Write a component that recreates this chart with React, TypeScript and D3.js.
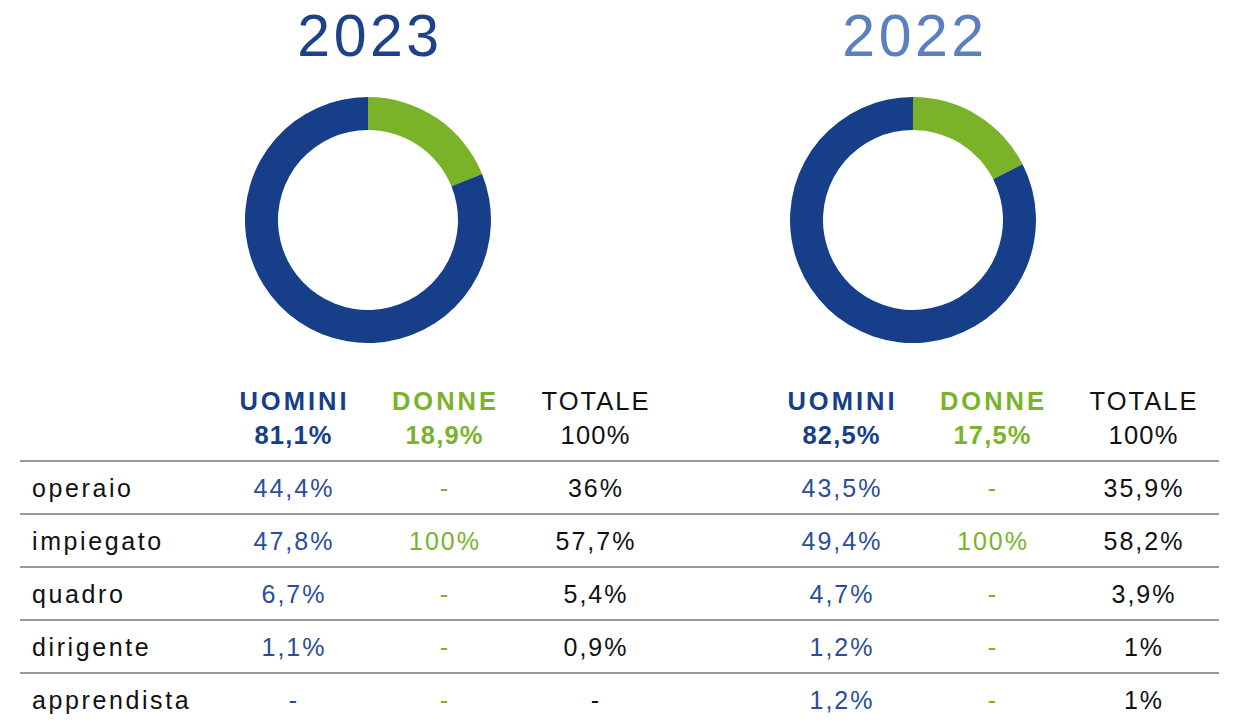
import React from "react";
import * as d3 from "d3";

// donut shares (%)
const years = ["2023", "2022"];
const donneShare = [18.9, 17.5];
const uominiShare = [81.1, 82.5];

// table
const roles = ["operaio", "impiegato", "quadro", "dirigente", "apprendista"];
const uomini2023 = [44.4, 47.8, 6.7, 1.1, null];
const donne2023 = [null, 100, null, null, null];
const totale2023 = [36, 57.7, 5.4, 0.9, null];
const uomini2022 = [43.5, 49.4, 4.7, 1.2, 1.2];
const donne2022 = [null, 100, null, null, null];
const totale2022 = [35.9, 58.2, 3.9, 1, 1];

const BLUE = "#173e88";
const BLUE_TXT = "#2b4f97";
const GREEN = "#7ab32a";
const TITLE_COLORS = ["#1d4289", "#5a80c0"];

const W = 1239;
const H = 723;
const FONT = "'Liberation Sans', Arial, Helvetica, sans-serif";

const fmt = (v: number | null) => (v == null ? "-" : String(v).replace(".", ",") + "%");

const App = () => {
  const blocks = [
    { year: years[0], d: donneShare[0], u: uominiShare[0], cols: [uomini2023, donne2023, totale2023], x0: 0 },
    { year: years[1], d: donneShare[1], u: uominiShare[1], cols: [uomini2022, donne2022, totale2022], x0: 548 },
  ];

  // rows: band scale over the table body
  const yRow = d3.scaleBand().domain(roles).range([461, 726]).padding(0);
  // column centres inside one block
  const xCol = d3.scalePoint().domain(["u", "d", "t"]).range([293, 595]);

  const pie = d3.pie<number>().sort(null).startAngle(0).endAngle(2 * Math.PI);
  const arc = d3.arc<d3.PieArcDatum<number>>().innerRadius(90).outerRadius(123);

  const colColor = [BLUE_TXT, GREEN, "#111"];

  return (
    <svg width={W} height={H} style={{ position: "absolute", left: 0, top: 0, background: "#fff" }} fontFamily={FONT}>
      {blocks.map((b, bi) => {
        const cx = 368 + b.x0 - (bi === 1 ? 3 : 0);
        const arcs = pie([b.d, b.u]);
        return (
          <g key={b.year}>
            <text x={cx + 2} y={56} textAnchor="middle" fontSize={59} letterSpacing={3.5} fill={TITLE_COLORS[bi]}>
              {b.year}
            </text>
            <g transform={`translate(${cx},220)`}>
              {arcs.map((a, i) => (
                <path key={i} d={arc(a) || ""} fill={i === 0 ? GREEN : BLUE} />
              ))}
            </g>
            {/* header */}
            <g fontSize={25.5}>
              <text x={b.x0 + xCol("u")! + 1.5} y={410} textAnchor="middle" fontWeight="bold" letterSpacing={3} fill={BLUE}>
                UOMINI
              </text>
              <text x={b.x0 + xCol("d")! + 1.5} y={410} textAnchor="middle" fontWeight="bold" letterSpacing={3} fill={GREEN}>
                DONNE
              </text>
              <text x={b.x0 + xCol("t")! + 1} y={410} textAnchor="middle" letterSpacing={2} fill="#111">
                TOTALE
              </text>
              <text x={b.x0 + xCol("u")! + 0.6} y={443.5} textAnchor="middle" fontWeight="bold" letterSpacing={1.2} fill={BLUE}>
                {fmt(b.u)}
              </text>
              <text x={b.x0 + xCol("d")! + 0.6} y={443.5} textAnchor="middle" fontWeight="bold" letterSpacing={1.2} fill={GREEN}>
                {fmt(b.d)}
              </text>
              <text x={b.x0 + xCol("t")! + 0.6} y={443.5} textAnchor="middle" letterSpacing={1.2} fill="#111">
                100%
              </text>
            </g>
            {/* body */}
            <g fontSize={25} letterSpacing={2}>
              {roles.map((r, ri) => (
                <g key={r}>
                  {bi === 0 && (
                    <text x={32} y={yRow(r)! + 35.5} fill="#111" letterSpacing={2.6}>
                      {r}
                    </text>
                  )}
                  {b.cols.map((col, ci) => (
                    <text
                      key={ci}
                      x={b.x0 + xCol(["u", "d", "t"][ci])! + 1}
                      y={yRow(r)! + 35.5}
                      textAnchor="middle"
                      fill={colColor[ci]}
                    >
                      {fmt(col[ri])}
                    </text>
                  ))}
                </g>
              ))}
            </g>
          </g>
        );
      })}
      {/* divider lines */}
      {roles.map((r) => (
        <line key={r} x1={20} x2={1219} y1={yRow(r)!} y2={yRow(r)!} stroke="#777" strokeWidth={1.6} />
      ))}
    </svg>
  );
};

export default App;
